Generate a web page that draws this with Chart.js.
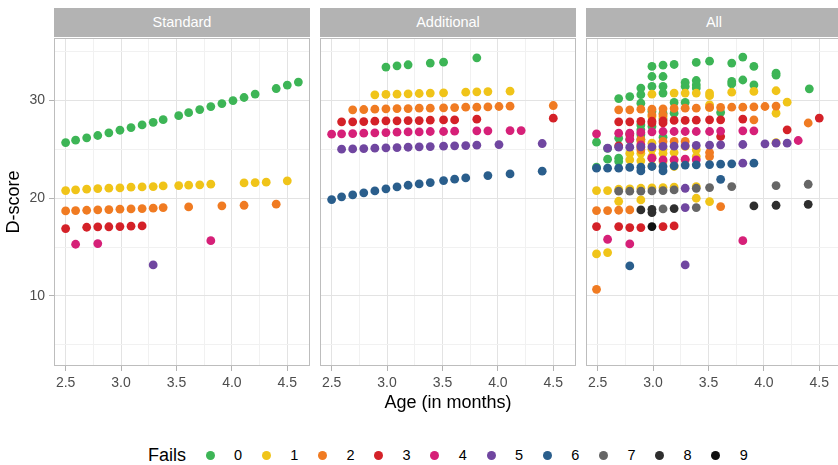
<!DOCTYPE html>
<html>
<head>
<meta charset="utf-8">
<script src="https://cdn.jsdelivr.net/npm/chart.js@4.4.1/dist/chart.umd.min.js"></script>
<style>
  html, body { margin: 0; padding: 0; background: #fff; }
  body { width: 838px; height: 465px; position: relative; overflow: hidden; font-family: 'Liberation Sans', Arial, sans-serif; }
  .panel { position: absolute; top: 38px; }
  .strip { position: absolute; top: 8px; height: 29px; width: 256px; background: #b3b3b3; color: #fff;
           font-size: 14.5px; line-height: 29px; text-align: center; }
  .legend-item { position: absolute; }
  .legend-title { position: absolute; left: 148px; top: 444px; font-size: 18px; line-height: 22px; color: #000; }
  .key { position: absolute; width: 9px; height: 9px; border-radius: 50%; top: 451px; }
  .key-label { position: absolute; top: 446px; font-size: 14.5px; line-height: 18px; color: #000; }
</style>
</head>
<body>
<div class="strip" style="left:54px">Standard</div>
<div class="strip" style="left:320px">Additional</div>
<div class="strip" style="left:586px">All</div>
<canvas id="standard" class="panel" width="310" height="376" style="left:0px"></canvas>
<canvas id="additional" class="panel" width="256" height="376" style="left:320px"></canvas>
<canvas id="all" class="panel" width="256" height="376" style="left:586px"></canvas>
<div id="legend"></div>
<script>
const FAILS = ['0', '1', '2', '3', '4', '5', '6', '7', '8', '9'];
const COLORS = ['#3db556', '#f0c419', '#f07b22', '#d42128', '#d62078', '#7046a0', '#2a5e8c', '#666666', '#2e2e2e', '#101010'];

const X_TICKS = [2.5, 2.75, 3.0, 3.25, 3.5, 3.75, 4.0, 4.25, 4.5];
const Y_TICKS = [5, 10, 15, 20, 25, 30, 35];

// [age in months, D-score] per number of fails
const std0 = [[2.50, 25.70], [2.59, 25.94], [2.69, 26.18], [2.79, 26.42], [2.89, 26.69], [2.99, 26.96], [3.09, 27.23],
  [3.19, 27.50], [3.29, 27.77], [3.38, 28.04], [3.52, 28.45], [3.61, 28.76], [3.71, 29.07], [3.81, 29.38], [3.91, 29.69],
  [4.01, 30.00], [4.11, 30.31], [4.21, 30.66], [4.40, 31.23], [4.50, 31.58], [4.60, 31.89]];
const std1 = [[2.50, 20.78], [2.59, 20.86], [2.69, 20.93], [2.79, 20.99], [2.89, 21.03], [2.99, 21.06], [3.09, 21.13],
  [3.19, 21.16], [3.29, 21.19], [3.38, 21.26], [3.52, 21.30], [3.61, 21.34], [3.71, 21.37], [3.81, 21.44], [4.11, 21.57],
  [4.21, 21.60], [4.31, 21.64], [4.50, 21.78]];
const std2 = [[2.50, 18.70], [2.59, 18.74], [2.69, 18.77], [2.79, 18.81], [2.89, 18.84], [2.99, 18.88], [3.09, 18.91],
  [3.19, 18.94], [3.29, 18.98], [3.38, 19.04], [3.61, 19.11], [3.91, 19.22], [4.11, 19.28], [4.40, 19.39]];
const std3 = [[2.50, 16.89], [2.69, 17.03], [2.79, 17.07], [2.89, 17.08], [2.99, 17.10], [3.09, 17.14], [3.19, 17.17]];
const std4 = [[2.59, 15.29], [2.79, 15.36], [3.81, 15.66]];
const std5 = [[3.29, 13.17]];

const add0 = [[2.99, 33.42], [3.09, 33.55], [3.19, 33.66], [3.39, 33.83], [3.51, 33.93], [3.81, 34.37]];
const add1 = [[2.89, 30.58], [2.99, 30.62], [3.09, 30.65], [3.19, 30.69], [3.29, 30.72], [3.39, 30.76], [3.51, 30.79],
  [3.71, 30.86], [3.81, 30.89], [3.91, 30.92], [4.11, 30.96]];
const add2 = [[2.69, 29.05], [2.79, 29.08], [2.89, 29.12], [2.99, 29.15], [3.09, 29.18], [3.19, 29.18], [3.29, 29.22],
  [3.39, 29.22], [3.51, 29.25], [3.61, 29.28], [3.71, 29.32], [3.81, 29.32], [3.91, 29.35], [4.01, 29.39], [4.11, 29.42],
  [4.50, 29.49]];
const add3 = [[2.59, 27.82], [2.69, 27.82], [2.79, 27.85], [2.89, 27.89], [2.99, 27.92], [3.09, 27.92], [3.19, 27.95],
  [3.29, 27.95], [3.39, 27.99], [3.51, 28.02], [3.61, 28.02], [3.81, 28.09], [4.50, 28.19]];
const add4 = [[2.50, 26.56], [2.59, 26.59], [2.69, 26.62], [2.79, 26.66], [2.89, 26.69], [2.99, 26.72], [3.09, 26.76],
  [3.19, 26.79], [3.29, 26.79], [3.39, 26.83], [3.51, 26.83], [3.61, 26.86], [3.81, 26.90], [3.91, 26.90], [4.11, 26.93],
  [4.21, 26.93]];
const add5 = [[2.59, 25.02], [2.69, 25.05], [2.79, 25.08], [2.89, 25.12], [2.99, 25.16], [3.09, 25.19], [3.19, 25.22],
  [3.29, 25.26], [3.39, 25.29], [3.51, 25.33], [3.61, 25.36], [3.71, 25.39], [3.81, 25.43], [4.01, 25.49], [4.40, 25.60]];
const add6 = [[2.50, 19.86], [2.59, 20.14], [2.69, 20.34], [2.79, 20.55], [2.89, 20.75], [2.99, 20.96], [3.09, 21.16],
  [3.19, 21.33], [3.29, 21.47], [3.39, 21.60], [3.51, 21.81], [3.61, 21.95], [3.71, 22.08], [3.91, 22.32], [4.11, 22.49],
  [4.40, 22.77]];

const all0 = [[2.99, 33.49], [3.09, 33.62], [3.19, 33.69], [3.39, 33.90], [3.51, 34.03], [3.71, 33.83], [3.81, 34.45],
  [3.91, 33.49], [4.11, 32.80], [4.11, 32.60], [3.71, 31.95], [3.71, 31.70], [3.81, 32.10], [3.91, 31.60], [4.41, 31.20],
  [2.99, 32.46], [3.09, 32.46], [2.99, 31.44], [3.09, 31.44], [2.89, 31.27], [2.89, 30.60], [2.79, 30.40], [2.69, 30.20],
  [3.09, 30.76], [3.29, 31.85], [3.29, 31.44], [3.39, 32.05], [3.39, 31.60], [3.39, 31.27], [3.19, 29.80], [3.29, 29.80],
  [2.89, 29.73], [2.99, 28.88], [3.09, 28.70], [3.61, 28.78], [3.19, 28.70], [3.09, 28.13], [2.89, 27.50], [2.89, 27.00],
  [2.99, 27.35], [2.79, 26.60], [2.89, 26.50], [3.09, 26.25], [2.69, 26.15], [2.79, 25.98], [2.89, 25.98], [2.49, 25.74],
  [2.59, 25.10], [2.59, 24.00], [2.69, 24.10], [2.69, 23.76], [2.49, 23.18]];
const all1 = [[2.99, 30.65], [3.19, 30.76], [3.29, 30.76], [3.39, 30.76], [3.51, 30.76], [3.51, 30.50], [3.71, 30.86],
  [3.91, 30.93], [4.11, 31.00], [4.21, 29.83], [4.11, 28.70], [3.51, 29.56], [3.51, 29.30], [2.99, 28.37], [3.09, 28.37],
  [2.99, 25.64], [2.89, 25.80], [2.89, 25.23], [2.99, 25.02], [3.09, 25.02], [3.29, 25.30], [3.39, 24.95], [4.11, 25.70],
  [3.09, 24.60], [3.19, 24.68], [2.79, 24.60], [2.89, 24.60], [2.99, 24.27], [3.39, 24.27], [2.79, 23.93], [3.19, 23.93],
  [2.89, 23.83], [3.09, 23.76], [2.99, 23.32], [3.19, 23.25], [2.49, 20.78], [2.59, 20.78], [2.69, 20.92], [2.79, 20.95],
  [2.89, 21.02], [2.99, 21.06], [3.09, 21.09], [3.19, 21.13], [3.39, 21.19], [2.69, 19.69], [2.89, 19.83], [3.39, 20.00],
  [3.51, 19.66], [2.49, 14.30], [2.59, 14.44]];
const all2 = [[2.69, 29.05], [2.79, 29.05], [2.89, 29.12], [2.99, 29.12], [3.09, 29.15], [3.19, 29.19], [3.29, 29.22],
  [3.39, 29.22], [3.51, 29.29], [3.61, 29.29], [3.71, 29.32], [3.81, 29.32], [3.91, 29.36], [4.01, 29.39], [4.11, 29.43],
  [4.40, 27.70], [3.91, 28.03], [2.99, 28.54], [3.09, 28.54], [2.89, 26.05], [3.09, 25.81], [3.19, 25.81], [3.29, 25.81],
  [3.51, 24.68], [3.51, 24.27], [2.89, 24.95], [2.99, 24.10], [3.29, 23.93], [2.49, 18.74], [2.59, 18.74], [2.69, 18.77],
  [2.79, 18.80], [3.61, 19.15], [2.49, 10.68]];
const all3 = [[2.69, 27.82], [2.79, 27.82], [2.89, 27.86], [2.99, 27.89], [3.09, 27.92], [3.19, 27.96], [3.29, 27.96],
  [3.39, 27.99], [3.51, 28.03], [3.61, 28.03], [3.81, 28.10], [4.50, 28.20], [4.21, 27.00], [2.99, 27.70], [3.09, 27.70],
  [2.79, 26.49], [3.61, 26.32], [2.69, 25.36], [2.49, 17.10], [2.69, 17.10], [2.79, 17.00], [2.89, 17.00], [3.09, 17.10],
  [3.19, 17.17]];
const all4 = [[2.49, 26.59], [2.69, 26.66], [2.79, 26.66], [2.89, 26.73], [2.99, 26.80], [3.09, 26.83], [3.19, 26.83],
  [3.29, 26.83], [3.39, 26.83], [3.51, 26.83], [3.61, 26.87], [3.81, 26.90], [3.91, 26.90], [4.31, 25.91], [2.79, 26.05],
  [2.89, 25.47], [2.99, 24.10], [3.09, 23.93], [3.19, 23.93], [3.29, 24.00], [3.39, 23.93], [2.59, 15.80], [2.79, 15.32],
  [3.81, 15.66]];
const all5 = [[2.59, 25.13], [2.69, 25.23], [2.79, 25.23], [2.89, 25.26], [2.99, 25.26], [3.09, 25.30], [3.19, 25.33],
  [3.29, 25.36], [3.39, 25.40], [3.51, 25.43], [3.61, 25.47], [3.81, 25.50], [4.01, 25.57], [4.11, 25.64], [4.21, 25.64],
  [3.81, 23.59], [3.29, 21.02], [3.29, 19.04], [3.29, 13.17]];
const all6 = [[2.49, 23.08], [2.59, 23.08], [2.69, 23.08], [2.79, 23.15], [2.89, 23.18], [2.89, 22.80], [2.99, 23.25],
  [3.09, 23.25], [3.09, 22.80], [3.19, 23.32], [3.29, 23.39], [3.39, 23.42], [3.51, 23.45], [3.61, 23.49], [3.71, 23.52],
  [3.91, 23.59], [3.61, 21.94], [2.79, 13.07]];
const all7 = [[2.69, 20.72], [2.79, 20.72], [2.89, 20.72], [2.99, 20.75], [3.09, 20.78], [3.19, 20.85], [3.39, 21.02],
  [3.51, 21.09], [3.71, 21.19], [4.11, 21.30], [4.40, 21.43], [3.09, 18.91], [3.39, 19.04]];
const all8 = [[2.89, 18.80], [2.99, 18.87], [2.99, 18.53], [3.19, 18.94], [3.91, 19.21], [4.11, 19.28], [4.40, 19.38]];
const all9 = [[2.99, 17.10]];

Chart.defaults.font.family = "'Liberation Sans', Arial, sans-serif";

const isMajorX = v => Math.abs(v * 2 - Math.round(v * 2)) < 1e-6;
const isMajorY = v => v % 10 === 0;

// ggplot-style frame round the plotting area
const panelBorder = {
  id: 'panelBorder',
  afterDatasetsDraw(chart) {
    const { ctx, chartArea: a } = chart;
    ctx.save();
    ctx.strokeStyle = '#bdbdbd';
    ctx.lineWidth = 1;
    ctx.strokeRect(a.left + 0.5, a.top + 0.5, a.right - a.left - 1, a.bottom - a.top - 1);
    ctx.restore();
  }
};

function makePanel(id, groups, withYAxis, withXTitle) {
  const datasets = groups.map((pts, i) => ({
    label: FAILS[i],
    data: pts.map(([x, y]) => ({ x, y })),
    backgroundColor: COLORS[i],
    borderWidth: 0,
    pointRadius: 4.4,
    order: 9 - i
  }));

  return new Chart(document.getElementById(id), {
    type: 'scatter',
    data: { datasets },
    plugins: [panelBorder],
    options: {
      responsive: false,
      animation: false,
      events: [],
      layout: { padding: 0, autoPadding: false },
      plugins: { legend: { display: false }, tooltip: { enabled: false } },
      scales: {
        x: {
          type: 'linear',
          min: 2.395,
          max: 4.705,
          afterBuildTicks: s => { s.ticks = X_TICKS.map(v => ({ value: v })); },
          afterFit: s => { s.height = 48; s.paddingLeft = 0; s.paddingRight = 0; },
          border: { display: false },
          grid: {
            color: c => isMajorX(c.tick.value) ? '#e3e3e3' : '#f1f1f1',
            lineWidth: 1,
            tickLength: 5,
            tickColor: c => isMajorX(c.tick.value) ? '#b3b3b3' : 'rgba(0,0,0,0)'
          },
          ticks: {
            autoSkip: false,
            maxRotation: 0,
            padding: 4,
            color: '#4d4d4d',
            font: { size: 14 },
            callback: v => isMajorX(v) ? v.toFixed(1) : ''
          },
          title: {
            display: withXTitle,
            text: 'Age (in months)',
            color: '#000',
            font: { size: 18 },
            padding: { top: 0, bottom: 0 }
          }
        },
        y: {
          type: 'linear',
          min: 2.83,
          max: 36.4,
          afterBuildTicks: s => { s.ticks = Y_TICKS.map(v => ({ value: v })); },
          afterFit: s => { s.width = withYAxis ? 54 : 0; s.paddingTop = 0; s.paddingBottom = 0; },
          border: { display: false },
          grid: {
            color: c => isMajorY(c.tick.value) ? '#e3e3e3' : '#f1f1f1',
            lineWidth: 1,
            drawTicks: withYAxis,
            tickLength: 5,
            tickColor: c => isMajorY(c.tick.value) ? '#b3b3b3' : 'rgba(0,0,0,0)'
          },
          ticks: {
            display: withYAxis,
            padding: 4,
            color: '#4d4d4d',
            font: { size: 14 },
            callback: v => isMajorY(v) ? String(v) : ''
          },
          title: {
            display: withYAxis,
            text: 'D-score',
            color: '#000',
            font: { size: 18 },
            padding: { top: 3, bottom: 0 }
          }
        }
      }
    }
  });
}

makePanel('standard', [std0, std1, std2, std3, std4, std5], true, false);
makePanel('additional', [add0, add1, add2, add3, add4, add5, add6], false, true);
makePanel('all', [all0, all1, all2, all3, all4, all5, all6, all7, all8, all9], false, false);

// legend row: "Fails" followed by one key per count
const legend = document.getElementById('legend');
legend.innerHTML = '<div class="legend-title">Fails</div>';
FAILS.forEach((f, i) => {
  const key = document.createElement('div');
  key.className = 'key';
  key.style.left = (205.5 + i * 56.2) + 'px';
  key.style.background = COLORS[i];
  legend.appendChild(key);
  const lab = document.createElement('div');
  lab.className = 'key-label';
  lab.style.left = (234 + i * 56.2) + 'px';
  lab.textContent = f;
  legend.appendChild(lab);
});
</script>
</body>
</html>
